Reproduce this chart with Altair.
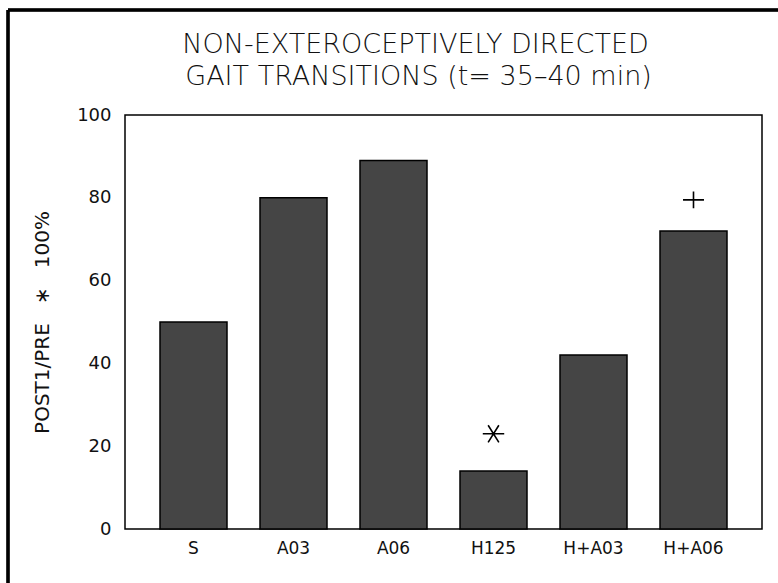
import altair as alt
import pandas as pd

groups = ["S", "A03", "A06", "H125", "H+A03", "H+A06"]
values = [50, 80, 89, 14, 42, 72]

mark_groups = ["H125", "H+A06"]
mark_values = [23, 79.5]
mark_kind = ["star", "plus"]

title_lines = ["NON-EXTEROCEPTIVELY DIRECTED", "GAIT TRANSITIONS (t= 35\u201340 min)"]
NB = "\u00a0"
y_title = "POST1/PRE" + NB * 3 + "\u2217" + NB * 3 + "100%"

df = pd.DataFrame({"group": groups, "value": values})
dm = pd.DataFrame({"group": mark_groups, "value": mark_values, "kind": mark_kind})
dt = pd.DataFrame({"line": title_lines, "row": [0, 1]})

FONT = "DejaVu Sans"
W, H = 637, 414

x_enc = alt.X("group:N", sort=groups, title=None,
              scale=alt.Scale(paddingInner=0.33, paddingOuter=0.35),
              axis=alt.Axis(labelAngle=0, ticks=False, domain=False, labelPadding=11,
                            labelFontSize=17, labelFont=FONT, labelColor="#111"))
y_scale = alt.Scale(domain=[0, 100])

bars = alt.Chart(df).mark_bar(fill="#454545", stroke="#000", strokeWidth=1.5).encode(
    x=x_enc,
    y=alt.Y("value:Q", scale=y_scale, title=y_title,
            axis=alt.Axis(values=[0, 20, 40, 60, 80, 100], ticks=False, tickSize=0,
                          domain=False, grid=False, labelPadding=14, labelFontSize=18,
                          labelFont=FONT, labelColor="#111",
                          titleFont=FONT, titleFontSize=20, titleFontWeight="normal",
                          titleColor="#111", titlePadding=24)),
)

star = alt.Chart(dm[dm.kind == "star"]).mark_point(
    shape="M-1,0L1,0M-0.5,-0.8L0.5,0.8M-0.5,0.8L0.5,-0.8",
    filled=False, stroke="#000", strokeWidth=1.6, size=460, opacity=1).encode(
    x=alt.X("group:N", sort=groups), y=alt.Y("value:Q", scale=y_scale))

plus = alt.Chart(dm[dm.kind == "plus"]).mark_point(
    shape="M-1,0L1,0M0,-0.8L0,0.8",
    filled=False, stroke="#000", strokeWidth=1.6, size=440, opacity=1).encode(
    x=alt.X("group:N", sort=groups), y=alt.Y("value:Q", scale=y_scale))

title0 = alt.Chart(dt[dt.row == 0]).mark_text(
    font=FONT, fontSize=27, fontWeight=200, color="#111", align="center",
    baseline="middle").encode(
    text="line:N", x=alt.value(W / 2 - 28), y=alt.value(-70))
title1 = alt.Chart(dt[dt.row == 1]).mark_text(
    font=FONT, fontSize=27, fontWeight=200, color="#111", align="center",
    baseline="middle").encode(
    text="line:N", x=alt.value(W / 2 - 25), y=alt.value(-38))

top_line = alt.Chart(df).mark_rule(color="#000", strokeWidth=2.5).encode(
    x=alt.value(-117), x2=alt.value(W + 40), y=alt.value(-105))
left_line = alt.Chart(df).mark_rule(color="#000", strokeWidth=2.5).encode(
    x=alt.value(-117), y=alt.value(-105), y2=alt.value(H + 60))

chart = alt.layer(bars, star, plus, title0, title1, top_line, left_line).properties(
    width=W, height=H,
    background="white",
    autosize=alt.AutoSizeParams(type="none"),
    padding={"left": 125, "top": 115, "right": 16, "bottom": 54},
).configure_view(stroke="#000", strokeWidth=1.5)

chart.save("out.html", embed_options={"renderer": "svg", "actions": False})
